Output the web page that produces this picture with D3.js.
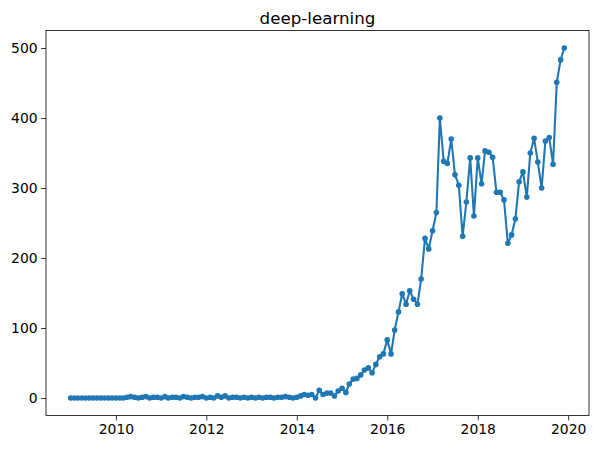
<!DOCTYPE html>
<html>
<head>
<meta charset="utf-8">
<script src="https://cdn.jsdelivr.net/npm/d3@7"></script>
<style>
  html, body { margin: 0; padding: 0; background: #fff; }
  svg { display: block; font-family: "DejaVu Sans", sans-serif; }
</style>
</head>
<body>
<svg id="chart" width="598" height="449"></svg>
<script>
// ---- data (monthly counts, Jan 2009 .. Dec 2019) ----
const title = "deep-learning";
const startMonth = "2009-01";
const v2009 = [0,0,0,0,0,0,0,0,0,0,0,0];
const v2010 = [0,0,0,1,2,1,0,1,2,0,1,1];
const v2011 = [0,2,0,1,1,0,2,1,0,1,1,2];
const v2012 = [0,1,0,3,1,3,0,1,1,0,1,0];
const v2013 = [1,0,1,0,1,1,0,1,1,2,1,0];
const v2014 = [1,3,5,4,5,0,11,5,7,7,3,10];
const v2015 = [14,8,20,27,28,33,40,43,36,48,59,63];
const v2016 = [83,63,97,123,149,134,153,141,134,170,228,213];
const v2017 = [239,265,400,338,335,370,319,304,231,280,343,260];
const v2018 = [343,306,353,351,344,294,294,283,221,233,256,309];
const v2019 = [323,287,350,371,337,300,367,372,334,451,483,500];
const xTickYears = [2010, 2012, 2014, 2016, 2018, 2020];
const yTicks = [0, 100, 200, 300, 400, 500];

const values = [].concat(v2009, v2010, v2011, v2012, v2013, v2014, v2015, v2016, v2017, v2018, v2019);
const parse = d3.timeParse("%Y-%m");
const t0 = parse(startMonth);
const data = values.map((v, i) => ({ date: d3.timeMonth.offset(t0, i), value: v }));

// ---- layout ----
const svg = d3.select("#chart");
const L = 46, R = 589, T = 30.5, B = 415.5;
const color = "#1f77b4";

const dExt = d3.extent(data, d => d.date);
const span = dExt[1] - dExt[0];
const x = d3.scaleTime()
  .domain([new Date(+dExt[0] - span * 0.05), new Date(+dExt[1] + span * 0.05)])
  .range([L, R]);
const vMax = d3.max(values), vMin = d3.min(values);
const vPad = (vMax - vMin) * 0.05;
const y = d3.scaleLinear().domain([vMin - vPad, vMax + vPad]).range([B, T]);

// line
svg.append("path")
  .datum(data)
  .attr("fill", "none")
  .attr("stroke", color)
  .attr("stroke-width", 2.08)
  .attr("stroke-linejoin", "round")
  .attr("stroke-linecap", "square")
  .attr("d", d3.line().x(d => x(d.date)).y(d => y(d.value)));

// markers
svg.append("g").selectAll("circle")
  .data(data)
  .join("circle")
  .attr("cx", d => x(d.date))
  .attr("cy", d => y(d.value))
  .attr("r", 2.8)
  .attr("fill", color);

// axes
const xAxis = d3.axisBottom(x)
  .tickValues(xTickYears.map(yr => new Date(yr, 0, 1)))
  .tickFormat(d3.timeFormat("%Y"))
  .tickSize(4.9).tickPadding(3.5);
const gx = svg.append("g").attr("transform", `translate(0,${B})`).call(xAxis);
gx.select(".domain").remove();

const yAxis = d3.axisLeft(y).tickValues(yTicks).tickFormat(d3.format("d"))
  .tickSize(4.9).tickPadding(3.5);
const gy = svg.append("g").attr("transform", `translate(${L},0)`).call(yAxis);
gy.select(".domain").remove();

[gx, gy].forEach(g => {
  g.selectAll("line").attr("stroke", "#000").attr("stroke-width", 0.8);
  g.selectAll("text").attr("fill", "#000").style("font-size", "13.9px")
    .style("font-family", "'DejaVu Sans', sans-serif");
});

// spines
svg.append("rect")
  .attr("x", L).attr("y", T).attr("width", R - L).attr("height", B - T)
  .attr("fill", "none").attr("stroke", "#000").attr("stroke-width", 0.8);

// title
svg.append("text")
  .attr("x", (L + R) / 2).attr("y", T - 7)
  .attr("text-anchor", "middle")
  .style("font-size", "16.7px")
  .attr("fill", "#000")
  .text(title);
</script>
</body>
</html>
